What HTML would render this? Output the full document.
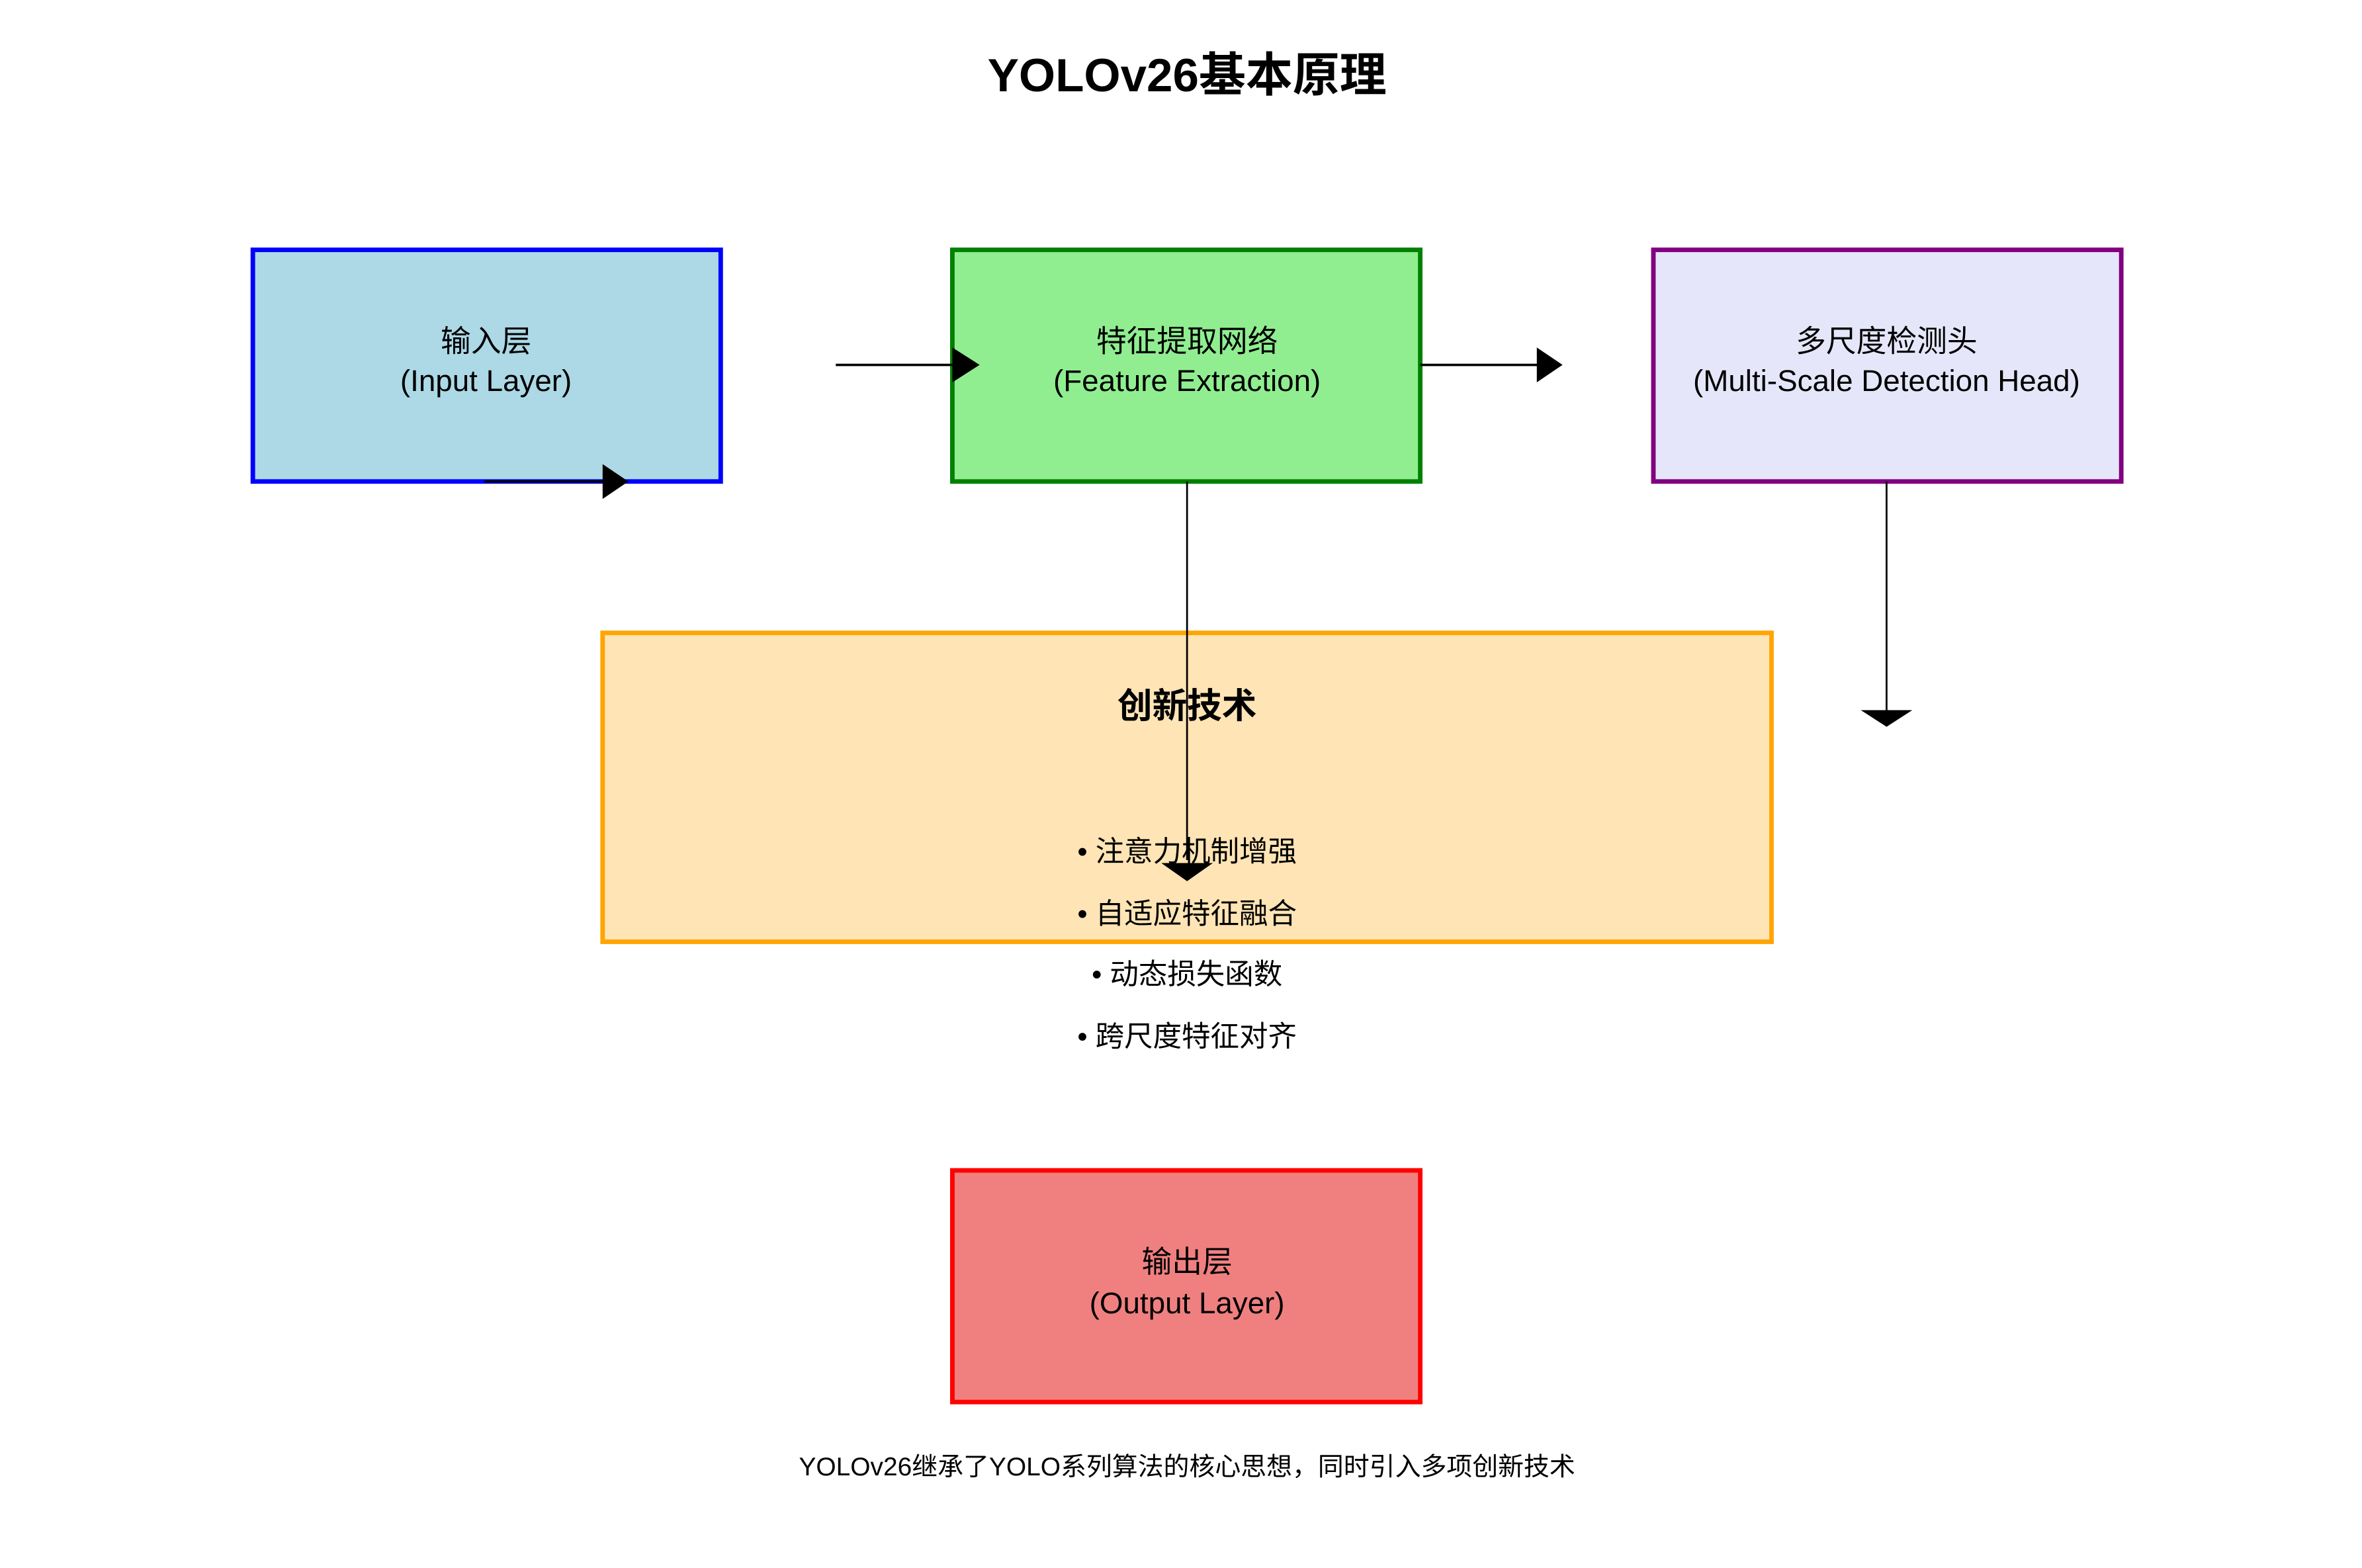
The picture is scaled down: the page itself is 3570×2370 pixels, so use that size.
<!DOCTYPE html>
<html><head><meta charset="utf-8"><style>
html,body{margin:0;padding:0;background:#fff;}
svg{display:block;}
text{font-family:"Liberation Sans","Noto Sans CJK SC",sans-serif;fill:#000;}
</style></head><body>
<svg width="3570" height="2370" viewBox="0 0 1560 1035.6" xmlns="http://www.w3.org/2000/svg">
<rect width="1560" height="1036" fill="#fff"/>
<text x="784" y="52" font-size="31" font-weight="bold" text-anchor="middle" dominant-baseline="middle">YOLOv26基本原理</text>

<rect x="167" y="165" width="309" height="153" fill="#ADD8E6" stroke="#0000FF" stroke-width="3"/>
<text x="321" y="227" font-size="20" text-anchor="middle" dominant-baseline="middle">输入层</text>
<text x="321" y="253" font-size="20" text-anchor="middle" dominant-baseline="middle">(Input Layer)</text>

<rect x="629" y="165" width="309" height="153" fill="#90EE90" stroke="#008000" stroke-width="3"/>
<text x="784" y="227" font-size="20" text-anchor="middle" dominant-baseline="middle">特征提取网络</text>
<text x="784" y="253" font-size="20" text-anchor="middle" dominant-baseline="middle">(Feature Extraction)</text>

<rect x="1092" y="165" width="309" height="153" fill="#E6E6FA" stroke="#800080" stroke-width="3"/>
<text x="1246" y="227" font-size="20" text-anchor="middle" dominant-baseline="middle">多尺度检测头</text>
<text x="1246" y="253" font-size="20" text-anchor="middle" dominant-baseline="middle">(Multi-Scale Detection Head)</text>

<rect x="398" y="418" width="772" height="204" fill="#FFE4B5" stroke="#FFA500" stroke-width="3"/>
<text x="784" y="468" font-size="23" font-weight="bold" text-anchor="middle" dominant-baseline="middle">创新技术</text>
<text x="784" y="564" font-size="19" text-anchor="middle" dominant-baseline="middle">• 注意力机制增强</text>
<text x="784" y="605" font-size="19" text-anchor="middle" dominant-baseline="middle">• 自适应特征融合</text>
<text x="784" y="645" font-size="19" text-anchor="middle" dominant-baseline="middle">• 动态损失函数</text>
<text x="784" y="686" font-size="19" text-anchor="middle" dominant-baseline="middle">• 跨尺度特征对齐</text>

<rect x="629" y="773" width="309" height="153" fill="#F08080" stroke="#FF0000" stroke-width="3"/>
<text x="784" y="835" font-size="20" text-anchor="middle" dominant-baseline="middle">输出层</text>
<text x="784" y="862" font-size="20" text-anchor="middle" dominant-baseline="middle">(Output Layer)</text>

<text x="784" y="970" font-size="17" text-anchor="middle" dominant-baseline="middle">YOLOv26继承了YOLO系列算法的核心思想，同时引入多项创新技术</text>

<!-- arrows -->
<line x1="320" y1="318" x2="400" y2="318" stroke="#000" stroke-width="1.6"/>
<polygon points="398,306.5 415,318 398,329.5" fill="#000"/>
<line x1="552" y1="241" x2="632" y2="241" stroke="#000" stroke-width="1.6"/>
<polygon points="629,229.5 647,241 629,252.5" fill="#000"/>
<line x1="938" y1="241" x2="1017" y2="241" stroke="#000" stroke-width="1.6"/>
<polygon points="1015,229.5 1032,241 1015,252.5" fill="#000"/>
<line x1="784" y1="318" x2="784" y2="568" stroke="#000" stroke-width="1.2"/>
<polygon points="767,570 801,570 784,582" fill="#000"/>
<line x1="1246" y1="318" x2="1246" y2="470" stroke="#000" stroke-width="1.2"/>
<polygon points="1229,469 1263,469 1246,480" fill="#000"/>
</svg>
</body></html>
